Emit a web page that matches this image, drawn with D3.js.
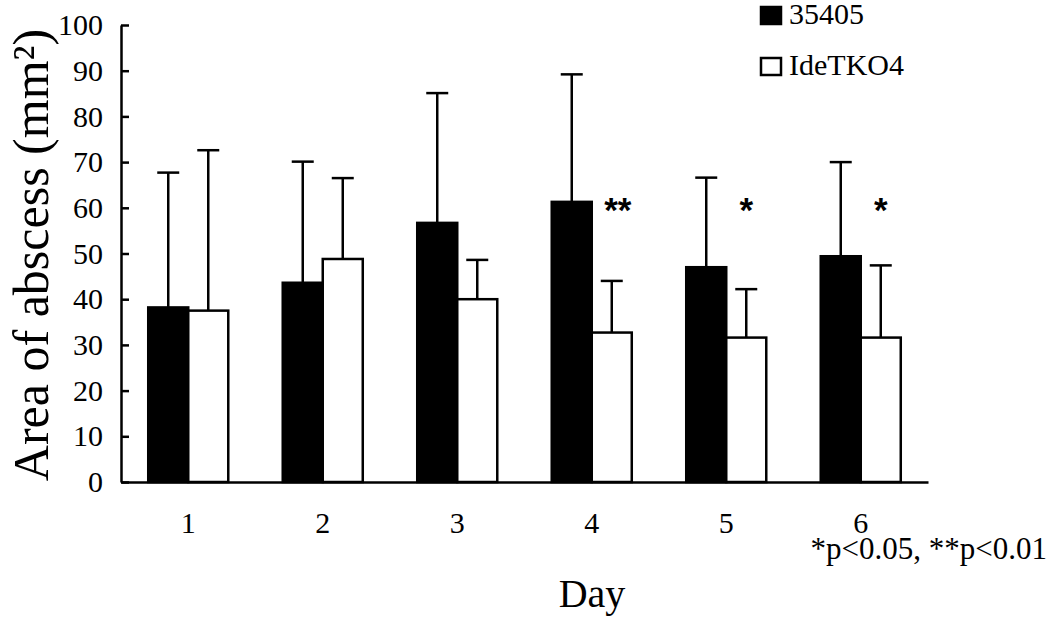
<!DOCTYPE html>
<html>
<head>
<meta charset="utf-8">
<script src="https://cdn.jsdelivr.net/npm/d3@7"></script>
<style>
  html, body { margin: 0; padding: 0; background: #fff; }
  svg { display: block; }
  text { font-family: "Liberation Serif", "Times New Roman", serif; fill: #000; }
</style>
</head>
<body>
<svg id="chart" width="1050" height="617"></svg>
<script>
// ---- data ----
const days = ["1", "2", "3", "4", "5", "6"];
const seriesNames = ["35405", "IdeTKO4"];
const meanA = [38.2, 43.6, 56.7, 61.3, 47.0, 49.4];   // 35405
const sdA   = [29.5, 26.5, 28.4, 27.9, 19.6, 20.6];
const meanB = [37.5, 48.8, 40.0, 32.7, 31.6, 31.6];   // IdeTKO4
const sdB   = [35.1, 17.7, 8.6, 11.3, 10.6, 15.8];
const sigMarks = ["", "", "", "**", "*", "*"];
const yTicks = [0, 10, 20, 30, 40, 50, 60, 70, 80, 90, 100];
const sigLevel = 61;

const svg = d3.select("#chart");
const mLeft = 121, mRight = 928, mTop = 25, mBottom = 482;
const serif = "'Liberation Serif', 'Times New Roman', serif";

const x = d3.scaleBand().domain(days).range([mLeft, mRight]).paddingInner(0.405).paddingOuter(0.2025);
const xs = d3.scaleBand().domain(seriesNames).range([0, x.bandwidth()]);
const y = d3.scaleLinear().domain([0, 100]).range([mBottom, mTop]);

const fills = { "35405": "#000", "IdeTKO4": "#fff" };
const rows = [];
days.forEach((d, i) => {
  rows.push({ day: d, s: "35405", m: meanA[i], sd: sdA[i] });
  rows.push({ day: d, s: "IdeTKO4", m: meanB[i], sd: sdB[i] });
});

// error bars
const eb = svg.append("g").attr("stroke", "#000").attr("stroke-width", 2.5);
rows.forEach(r => {
  const cx = x(r.day) + xs(r.s) + xs.bandwidth() / 2;
  eb.append("line").attr("x1", cx).attr("x2", cx).attr("y1", y(r.m)).attr("y2", y(r.m + r.sd));
  eb.append("line").attr("x1", cx - 11).attr("x2", cx + 11).attr("y1", y(r.m + r.sd)).attr("y2", y(r.m + r.sd));
});

// bars
svg.append("g").selectAll("rect").data(rows).join("rect")
  .attr("x", r => x(r.day) + xs(r.s))
  .attr("y", r => y(r.m))
  .attr("width", xs.bandwidth())
  .attr("height", r => y(0) - y(r.m))
  .attr("fill", r => fills[r.s])
  .attr("stroke", "#000")
  .attr("stroke-width", 2.5);

// significance marks
svg.append("g").selectAll("text").data(days).join("text")
  .attr("x", (d, i) => x(d) + xs("IdeTKO4") + xs.bandwidth() / 2 + (sigMarks[i].length > 1 ? 6 : 0))
  .attr("y", y(sigLevel))
  .attr("dy", "0.55em")
  .attr("text-anchor", "middle")
  .style("font-family", "'Liberation Sans', Arial, sans-serif")
  .style("font-weight", "bold")
  .style("font-size", "35px")
  .text((d, i) => sigMarks[i]);

// axes
const yAxis = d3.axisLeft(y).tickValues(yTicks).tickSizeInner(-8).tickSizeOuter(0).tickPadding(18);
const gy = svg.append("g").attr("transform", `translate(${mLeft},0)`).call(yAxis)
  .attr("font-family", null).attr("font-size", null);
gy.selectAll("text").style("font-size", "30px").style("font-family", serif);
gy.selectAll("line, path").attr("stroke", "#000").attr("stroke-width", 2.5);

const xAxis = d3.axisBottom(x).tickSize(0).tickPadding(30);
const gx = svg.append("g").attr("transform", `translate(0,${mBottom})`).call(xAxis)
  .attr("font-family", null).attr("font-size", null);
gx.selectAll("text").style("font-size", "30px").style("font-family", serif);
gx.select("path").attr("stroke", "#000").attr("stroke-width", 2.5);

// axis titles
svg.append("text")
  .attr("transform", `translate(48,255) rotate(-90)`)
  .attr("text-anchor", "middle")
  .style("font-family", serif)
  .style("font-size", "50px")
  .text("Area of abscess (mm²)");

svg.append("text")
  .attr("x", 592).attr("y", 607)
  .attr("text-anchor", "middle")
  .style("font-family", serif)
  .style("font-size", "40px")
  .text("Day");

svg.append("text")
  .attr("x", 1047).attr("y", 559)
  .attr("text-anchor", "end")
  .style("font-family", serif)
  .style("font-size", "31px")
  .text("*p<0.05, **p<0.01");

// legend
const lg = svg.append("g");
seriesNames.forEach((s, i) => {
  const ly = 7 + i * 51;
  lg.append("rect").attr("x", 761).attr("y", ly).attr("width", 20).attr("height", 17)
    .attr("fill", fills[s]).attr("stroke", "#000").attr("stroke-width", 2.5);
  lg.append("text").attr("x", 789).attr("y", ly + 17)
    .style("font-family", serif).style("font-size", "30px").text(s);
});
</script>
</body>
</html>
